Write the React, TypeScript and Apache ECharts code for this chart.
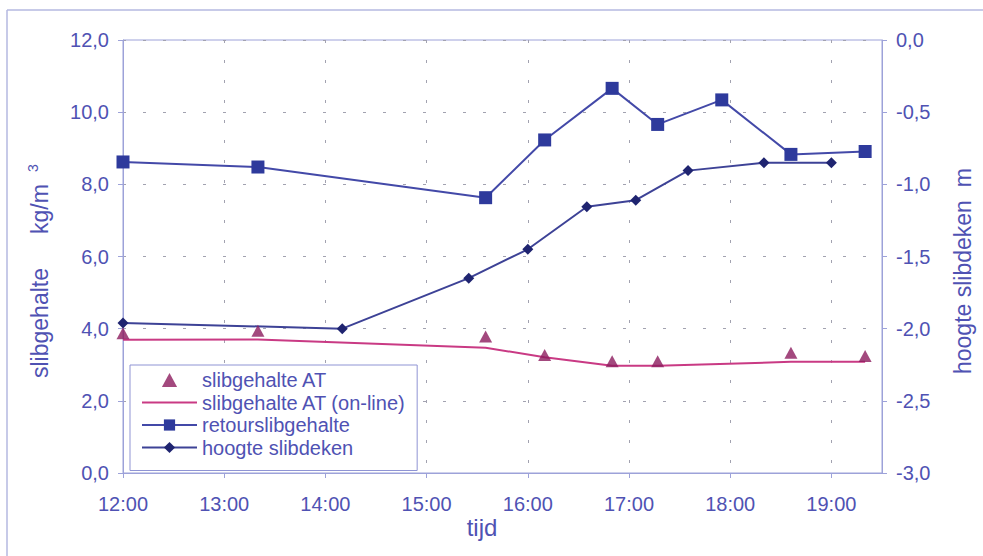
import React, { useEffect, useRef } from 'react';
import * as echarts from 'echarts';

// Times (hh:mm) and values
const atTimes = ['12:00', '13:20', '15:35', '16:10', '16:50', '17:17', '18:36', '19:20'];
const atValues = [3.87, 3.94, 3.78, 3.27, 3.1, 3.1, 3.33, 3.24];
const onlineValues = [3.69, 3.7, 3.47, 3.21, 2.97, 2.97, 3.08, 3.08];
const retourTimes = ['12:00', '13:20', '15:35', '16:10', '16:50', '17:17', '17:55', '18:36', '19:20'];
const retourValues = [8.62, 8.48, 7.63, 9.23, 10.66, 9.66, 10.34, 8.83, 8.91];
const hoogteTimes = ['12:00', '14:10', '15:25', '16:00', '16:35', '17:04', '17:35', '18:20', '19:00'];
const hoogteValues = [-1.96, -2.0, -1.65, -1.45, -1.155, -1.11, -0.905, -0.85, -0.85];

const seriesNames = ['slibgehalte AT', 'slibgehalte AT (on-line)', 'retourslibgehalte', 'hoogte slibdeken'];
const xAxisName = 'tijd';

const toMin = (t: string) => {
  const [h, m] = t.split(':').map(Number);
  return h * 60 + m;
};
const pairs = (times: string[], vals: number[]) => times.map((t, i) => [toMin(t), vals[i]]);
const comma = (v: number) => v.toFixed(1).replace('.', ',');

const TXT = '#4f52b3';
const AXIS = '#9da2d9';
const GRID = '#a2a2b0';
const FONT = 'Arial, "Liberation Sans", sans-serif';

export default function App() {
  const ref = useRef<HTMLDivElement>(null);
  useEffect(() => {
    if (!ref.current) return;
    const chart = echarts.init(ref.current, undefined, { renderer: 'svg' });
    chart.setOption({
      animation: false,
      backgroundColor: '#ffffff',
      textStyle: { fontFamily: FONT },
      grid: {
        left: 123,
        right: 101,
        top: 40,
        bottom: 83,
        show: true,
        borderColor: AXIS,
        borderWidth: 1,
        backgroundColor: 'transparent',
      },
      legend: {
        orient: 'vertical',
        left: 130,
        top: 365,
        padding: [4, 11, 12, 11],
        itemWidth: 55,
        itemHeight: 14,
        itemGap: 0.5,
        symbolKeepAspect: true,
        backgroundColor: '#ffffff',
        borderColor: '#8f94d4',
        borderWidth: 1,
        borderRadius: 0,
        textStyle: { color: TXT, fontSize: 20, fontFamily: FONT, lineHeight: 22 },
        data: [
          { name: seriesNames[0], icon: 'path://M0,12 L6.5,0 L13,12 Z' },
          { name: seriesNames[1], icon: 'path://M0,0 L55,0 L55,2 L0,2 Z' },
          { name: seriesNames[2] },
          { name: seriesNames[3] },
        ],
        z: 10,
      },
      xAxis: {
        type: 'value',
        min: 720,
        max: 1170,
        interval: 60,
        axisLine: { show: true, lineStyle: { color: AXIS, width: 1 } },
        axisTick: { show: true, length: 5, lineStyle: { color: AXIS } },
        axisLabel: {
          color: TXT,
          fontSize: 20,
          fontFamily: FONT,
          margin: 21,
          formatter: (v: number) => `${Math.floor(v / 60)}:00`,
          showMaxLabel: false,
        },
        splitLine: { show: true, lineStyle: { color: GRID, type: [3, 17], width: 1 } },
      },
      yAxis: [
        {
          type: 'value',
          min: 0,
          max: 12,
          interval: 2,
          position: 'left',
          axisLine: { show: true, lineStyle: { color: AXIS, width: 1 } },
          axisTick: { show: true, length: 5, lineStyle: { color: AXIS } },
          axisLabel: { color: TXT, fontSize: 20, fontFamily: FONT, margin: 14, formatter: comma },
          splitLine: { show: true, lineStyle: { color: GRID, type: [3, 17], width: 1 } },
        },
        {
          type: 'value',
          min: -3,
          max: 0,
          interval: 0.5,
          position: 'right',
          axisLine: { show: true, lineStyle: { color: AXIS, width: 1 } },
          axisTick: { show: true, length: 5, lineStyle: { color: AXIS } },
          axisLabel: { color: TXT, fontSize: 20, fontFamily: FONT, margin: 14, formatter: comma },
          splitLine: { show: false },
        },
      ],
      graphic: [
        { type: 'line', shape: { x1: 7, y1: 10, x2: 983, y2: 10 }, style: { stroke: '#b4b8e0', lineWidth: 1.5 }, silent: true },
        { type: 'line', shape: { x1: 7, y1: 10, x2: 7, y2: 556 }, style: { stroke: '#b4b8e0', lineWidth: 1.5 }, silent: true },
        {
          type: 'text', x: 40, y: 378, rotation: Math.PI / 2,
          style: { text: 'slibgehalte', fill: TXT, font: `23px ${FONT}`, align: 'left', verticalAlign: 'middle' },
        },
        {
          type: 'text', x: 40, y: 234, rotation: Math.PI / 2,
          style: { text: 'kg/m', fill: TXT, font: `23px ${FONT}`, align: 'left', verticalAlign: 'middle' },
        },
        {
          type: 'text', x: 33, y: 172, rotation: Math.PI / 2,
          style: { text: '3', fill: TXT, font: `14px ${FONT}`, align: 'left', verticalAlign: 'middle' },
        },
        {
          type: 'text', x: 963, y: 374, rotation: Math.PI / 2,
          style: { text: 'hoogte slibdeken  m', fill: TXT, font: `23px ${FONT}`, align: 'left', verticalAlign: 'middle' },
        },
        {
          type: 'text', x: 482, y: 527,
          style: { text: xAxisName, fill: TXT, font: `24px ${FONT}`, align: 'center', verticalAlign: 'middle' },
        },
      ],
      series: [
        {
          name: seriesNames[1],
          type: 'line',
          data: pairs(atTimes, onlineValues),
          symbol: 'none',
          lineStyle: { color: '#c93a84', width: 2 },
          itemStyle: { color: '#c93a84' },
          z: 2,
        },
        {
          name: seriesNames[0],
          type: 'scatter',
          data: pairs(atTimes, atValues),
          symbol: 'triangle',
          symbolSize: [13, 12],
          itemStyle: { color: '#8c1c5e' },
          z: 4,
        },
        {
          name: seriesNames[2],
          type: 'line',
          data: pairs(retourTimes, retourValues),
          symbol: 'rect',
          symbolSize: 13,
          lineStyle: { color: '#4349a8', width: 2 },
          itemStyle: { color: '#2e3a9c' },
          z: 3,
        },
        {
          name: seriesNames[3],
          type: 'line',
          yAxisIndex: 1,
          data: pairs(hoogteTimes, hoogteValues),
          symbol: 'diamond',
          symbolSize: 11,
          lineStyle: { color: '#3d4296', width: 2 },
          itemStyle: { color: '#1f2470' },
          z: 3,
        },
      ],
    });
    return () => chart.dispose();
  }, []);
  return <div ref={ref} style={{ width: 983, height: 556, position: 'absolute', left: 0, top: 0 }} />;
}
